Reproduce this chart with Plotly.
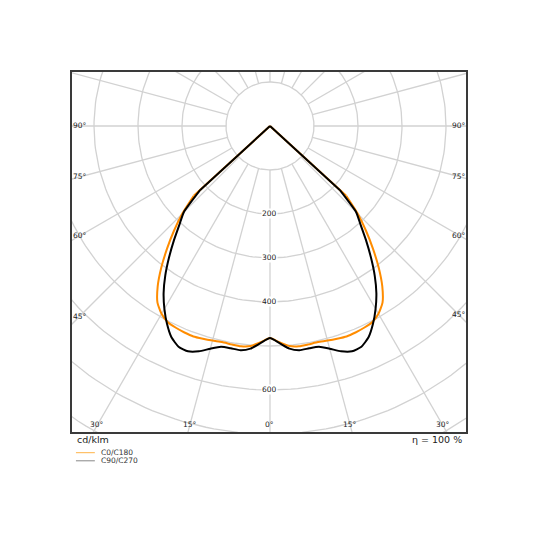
import numpy as np
import plotly.graph_objects as go

# luminous intensity diagram, cd/klm, gamma angle from nadir
angles = np.arange(0, 90.1, 2.5)
c0_c180 = [482, 492, 502, 505, 504, 503, 505, 507, 509, 508, 506, 503, 493, 476,
           445, 406, 364, 323, 282, 235] + [0] * 17
c90_c270 = [482, 494, 508, 514, 513, 514, 524, 537, 545, 543, 530, 507, 480, 450,
            415, 377, 340, 305, 277, 215] + [0] * 17

grid_radii = [100, 200, 300, 400, 500, 600, 700, 800, 900, 1000]
radial_angles = list(range(0, 360, 15))
radius_labels = [200, 300, 400, 600]
side_labels = [90, 75, 60, 45]
bottom_labels = [-30, -15, 0, 15, 30]

X_MIN, X_MAX = -450, 445.5
Y_MIN, Y_MAX = -695.5, 122.7
GRID = "#d2d2d2"
FONT = "DejaVu Sans"


def to_xy(theta, r):
    t = np.radians(theta)
    return np.asarray(r) * np.sin(t), -np.asarray(r) * np.cos(t)


def curve(vals):
    # full gamma sweep -90..90, mirrored half-planes
    th = np.concatenate([-angles[::-1], angles[1:]])
    r = np.concatenate([np.array(vals)[::-1], np.array(vals)[1:]])
    lit = np.nonzero(r > 0)[0]
    lo, hi = lit[0], lit[-1]
    sx, sy = to_xy(th[lo:hi + 1], r[lo:hi + 1])
    # straight runs into the origin where the intensity drops to zero
    ex, ey = to_xy(th[[lo - 1, lo, hi, hi + 1]], r[[lo - 1, lo, hi, hi + 1]])
    ex = [ex[0], ex[1], None, ex[2], ex[3]]
    ey = [ey[0], ey[1], None, ey[2], ey[3]]
    return (sx, sy), (ex, ey)


fig = go.Figure()

# circles
t = np.linspace(0, 360, 241)
cx, cy = [], []
for r in grid_radii:
    x, y = to_xy(t, r)
    cx += list(x) + [None]
    cy += list(y) + [None]
fig.add_trace(go.Scatter(x=cx, y=cy, mode="lines", line=dict(color=GRID, width=1.3),
                         hoverinfo="skip", showlegend=False))

# radial lines, starting at the 100 circle
rx, ry = [], []
for a in radial_angles:
    x, y = to_xy(np.array([a, a]), np.array([100, 1500]))
    rx += list(x) + [None]
    ry += list(y) + [None]
fig.add_trace(go.Scatter(x=rx, y=ry, mode="lines", line=dict(color=GRID, width=1.3),
                         hoverinfo="skip", showlegend=False))

for vals, col, name in [(c0_c180, "#ff8c00", "C0/C180"), (c90_c270, "#000000", "C90/C270")]:
    (sx, sy), (ex, ey) = curve(vals)
    fig.add_trace(go.Scatter(x=ex, y=ey, mode="lines", name=name,
                             line=dict(color=col, width=2), showlegend=False))
    fig.add_trace(go.Scatter(x=sx, y=sy, mode="lines", name=name,
                             line=dict(color=col, width=2, shape="spline", smoothing=0.5),
                             showlegend=False))

ann = []
for r in radius_labels:
    ann.append(dict(x=0, y=-r, text=str(r), showarrow=False, bgcolor="white",
                    font=dict(size=7.5, color="#222"), borderpad=0))

for a in side_labels:
    for xe in (X_MIN + 18, X_MAX - 16):
        y = 0 if a == 90 else -abs(xe) / np.tan(np.radians(a))
        ann.append(dict(x=xe, y=y, text=f"{a}°", showarrow=False,
                        font=dict(size=7.5, color="#222")))

for a in bottom_labels:
    ye = Y_MIN + 16
    ann.append(dict(x=abs(ye) * np.tan(np.radians(a)), y=ye, text=f"{abs(a)}°",
                    showarrow=False, font=dict(size=7.5, color="#222")))

ann.append(dict(xref="paper", yref="paper", x=0.008, y=-0.02, xanchor="left",
                yanchor="middle", text="cd/klm", showarrow=False,
                font=dict(size=9.5, color="#222")))
ann.append(dict(xref="paper", yref="paper", x=0.995, y=-0.02, xanchor="right",
                yanchor="middle", text="η = 100 %", showarrow=False,
                font=dict(size=9.5, color="#222")))

legend_items = [("C0/C180", "#ffb347", -0.0575), ("C90/C270", "#888888", -0.08)]
shapes = []
for name, col, yy in legend_items:
    shapes.append(dict(type="line", xref="paper", yref="paper", x0=0.01, x1=0.058,
                       y0=yy, y1=yy, line=dict(color=col, width=1)))
    ann.append(dict(xref="paper", yref="paper", x=0.068, y=yy, xanchor="left",
                    yanchor="middle", text=name, showarrow=False,
                    font=dict(size=7.5, color="#333")))

# page body adds 8px, so margins are trimmed to keep the frame at 72..466 / 72..432
fig.update_layout(
    width=540, height=540,
    margin=dict(l=64, r=82, t=64, b=116),
    paper_bgcolor="white", plot_bgcolor="white",
    font=dict(family=FONT),
    annotations=ann, shapes=shapes,
    xaxis=dict(range=[X_MIN, X_MAX], showgrid=False, zeroline=False, showticklabels=False,
               ticks="", showline=True, mirror=True, linecolor="#3a3a3a", linewidth=1.5),
    yaxis=dict(range=[Y_MIN, Y_MAX], showgrid=False, zeroline=False, showticklabels=False,
               ticks="", showline=True, mirror=True, linecolor="#3a3a3a", linewidth=1.5),
)

fig.write_html("out.html")
